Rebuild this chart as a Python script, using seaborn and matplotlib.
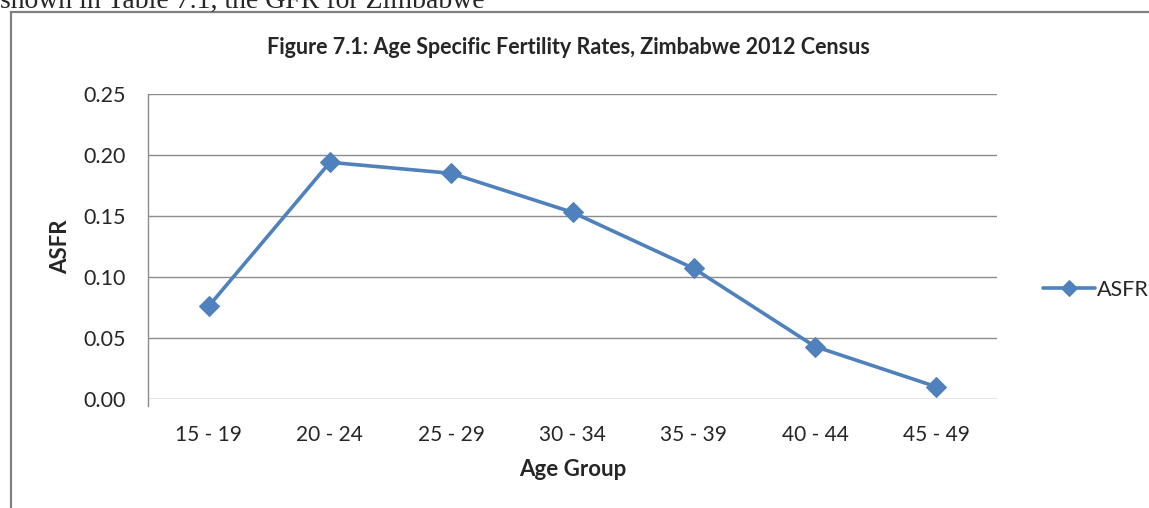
import matplotlib
matplotlib.use("Agg")
import matplotlib.pyplot as plt
import seaborn as sns
import pandas as pd
from matplotlib.patches import Rectangle
from matplotlib.ticker import MultipleLocator, FixedLocator, FormatStrFormatter

age_groups = ["15 - 19", "20 - 24", "25 - 29", "30 - 34", "35 - 39", "40 - 44", "45 - 49"]
asfr = [0.076, 0.194, 0.185, 0.153, 0.107, 0.043, 0.010]

blue = "#4F81BD"
grid_gray = "#8c8c8c"

sns.set_style("white")
plt.rcParams["font.family"] = ["Lato", "DejaVu Sans"]

df = pd.DataFrame({"Age Group": age_groups, "ASFR": asfr})

W, H = 1149, 508
fig = plt.figure(figsize=(W / 100, H / 100), dpi=100)
ax = fig.add_axes([148 / W, 1 - 399 / H, (997 - 148) / W, (399 - 94) / H])

sns.lineplot(data=df, x="Age Group", y="ASFR", ax=ax, color=blue, linewidth=2.6,
             marker="D", markersize=10.5, markeredgecolor=blue, label="ASFR", sort=False)

ax.set_xlim(-0.5, len(age_groups) - 0.5)
ax.set_ylim(0, 0.25)
ax.yaxis.set_major_locator(MultipleLocator(0.05))
ax.yaxis.set_major_formatter(FormatStrFormatter("%.2f"))
ax.grid(axis="y", color=grid_gray, linewidth=1)
ax.set_axisbelow(True)

for s in ["top", "right", "bottom"]:
    ax.spines[s].set_visible(False)
ax.spines["left"].set_color(grid_gray)
ax.spines["left"].set_linewidth(1)
ax.spines["left"].set_bounds(-0.006, 0.25)

ax.xaxis.set_minor_locator(FixedLocator([i - 0.5 for i in range(len(age_groups) + 1)]))
ax.tick_params(axis="x", which="major", length=0, pad=19, labelsize=15)
ax.tick_params(axis="x", which="minor", length=6, width=1, color=grid_gray, direction="out")
ax.tick_params(axis="y", length=5, width=1, color=grid_gray, pad=11, labelsize=15.5)

ax.set_xlabel("Age Group", fontsize=16, fontweight="bold", va="center")
ax.xaxis.set_label_coords(0.5, (399 - 469) / 305)
ax.set_ylabel("ASFR", fontsize=16, fontweight="bold", va="center")
ax.yaxis.set_label_coords((61 - 148) / 849, 0.5)

fig.text(568 / W, 1 - 48 / H, "Figure 7.1: Age Specific Fertility Rates, Zimbabwe 2012 Census",
         ha="center", va="center", fontsize=15.5, fontweight="bold")

ax.legend(loc="center left", bbox_to_anchor=(1024 / W, 1 - 290 / H), bbox_transform=fig.transFigure,
          frameon=False, fontsize=15.5, handlelength=2.4, handletextpad=0.1, markerscale=0.8)

# outer chart frame and the cropped line of page text above it
fig.patches.append(Rectangle((11 / W, -0.1), 1.2, 1 - 12.5 / H + 0.1, transform=fig.transFigure,
                             fill=False, edgecolor="#808080", linewidth=1.6))
fig.text(0, 1 - 8 / H, "shown in Table 7.1, the GFR for Zimbabwe", family=["Liberation Serif"],
         fontsize=20, ha="left", va="baseline")

fig.savefig("out.png", dpi=100)
